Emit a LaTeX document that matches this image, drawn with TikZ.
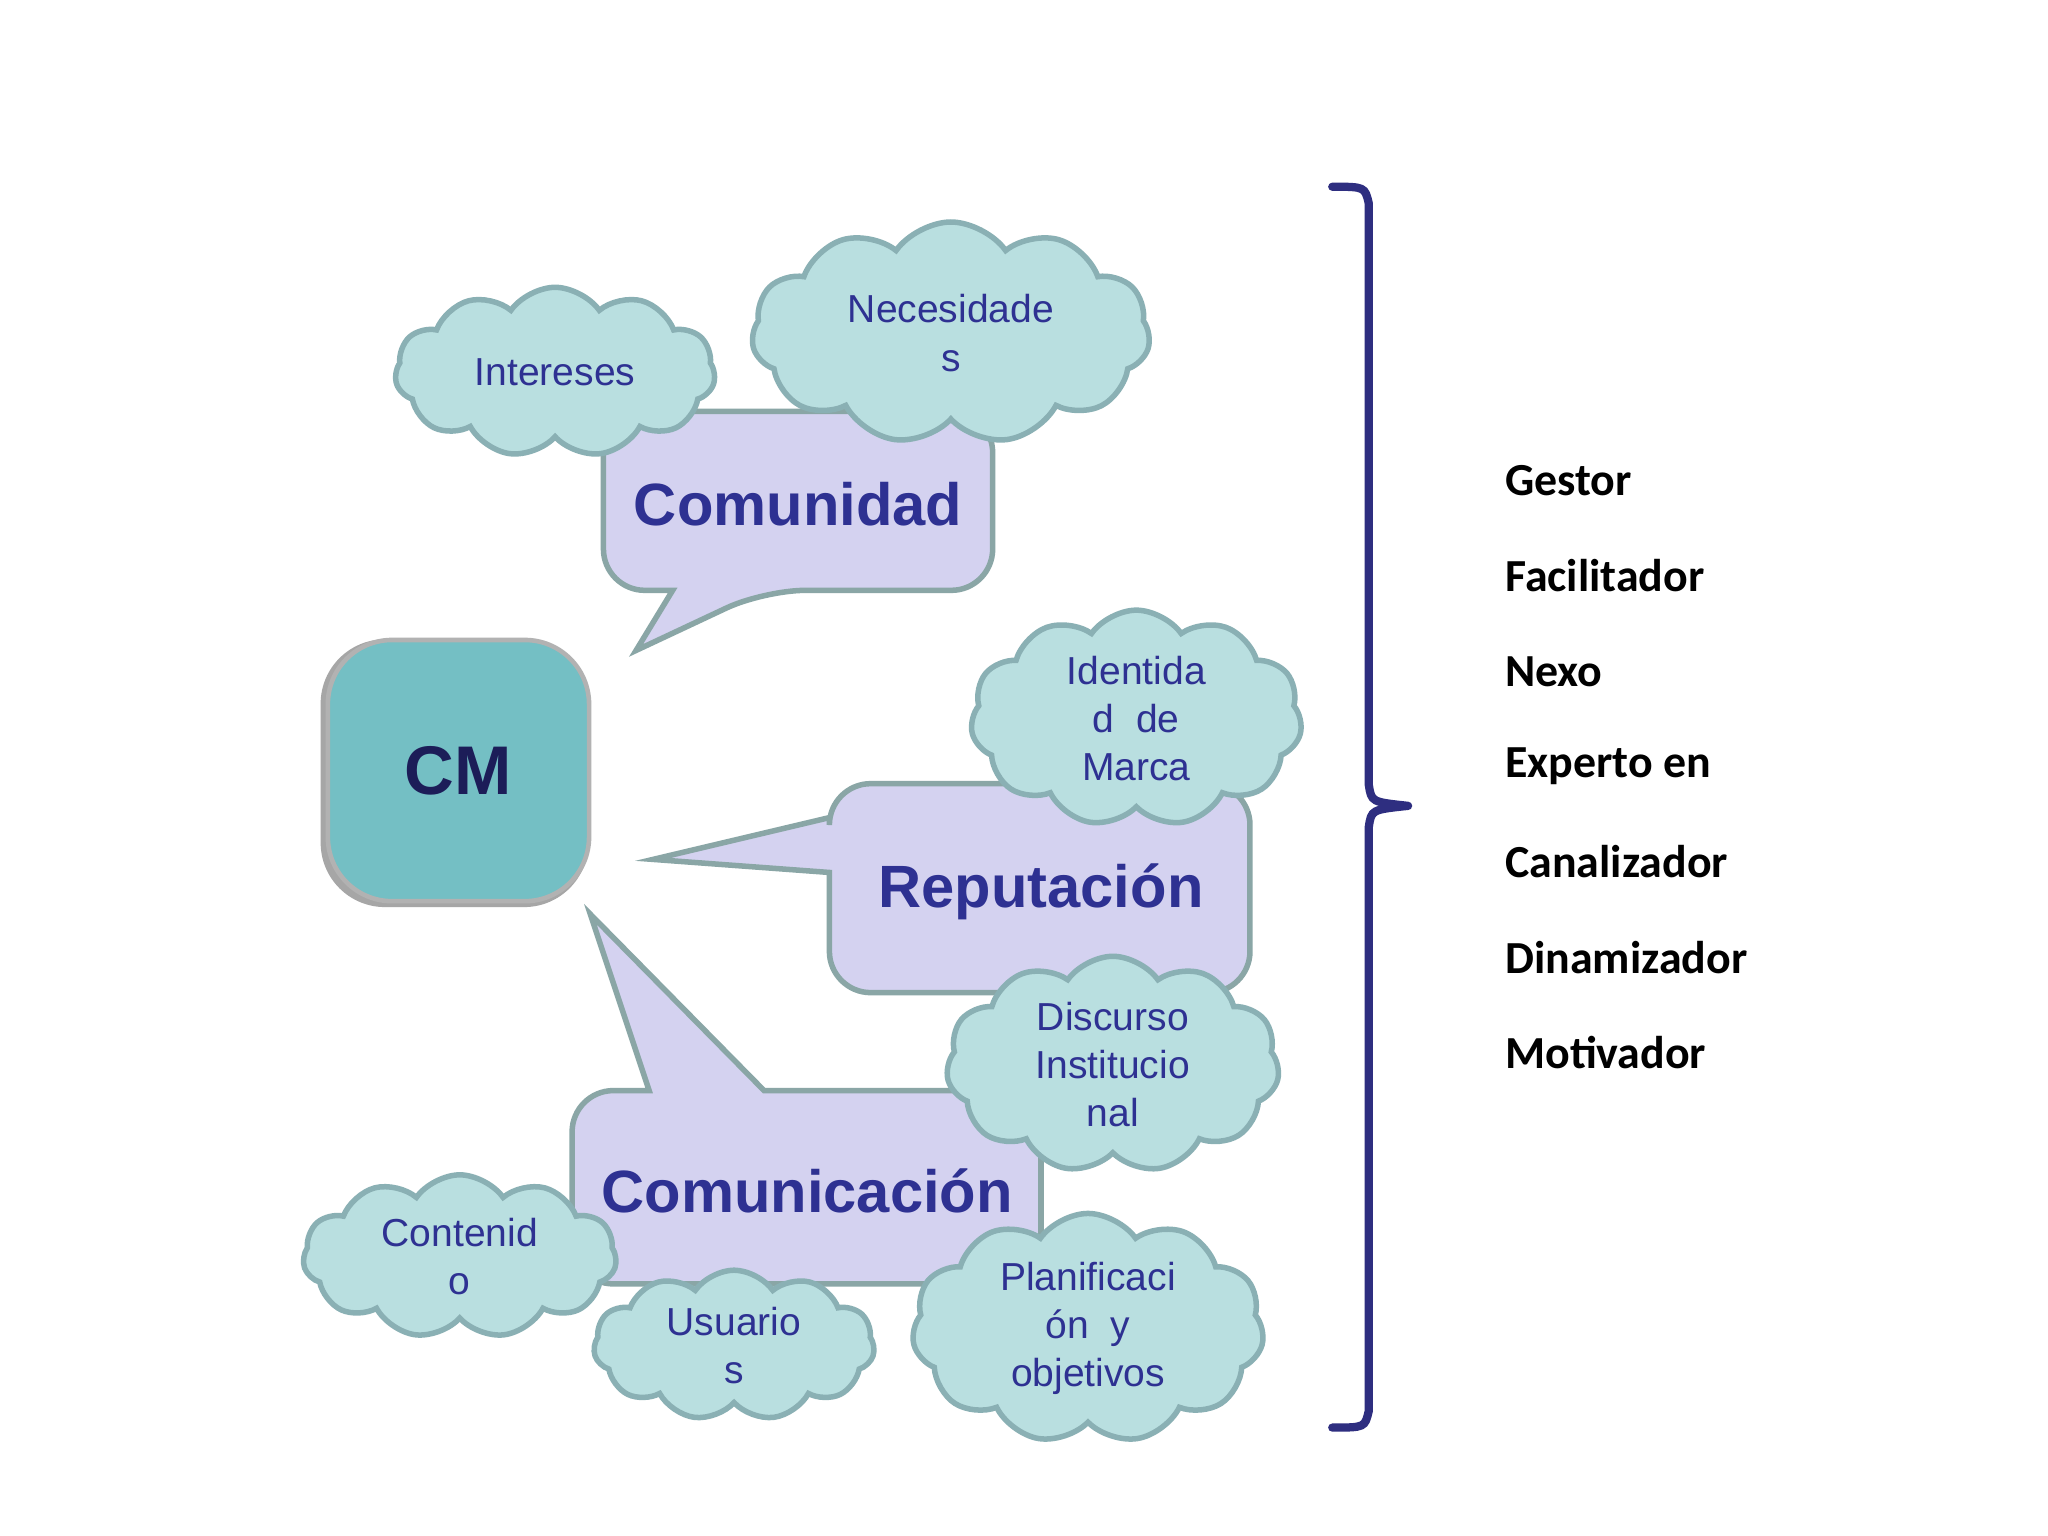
\documentclass[tikz,border=0pt]{standalone}
\usepackage{fontspec}
\setmainfont{Liberation Sans}
\newfontfamily\calib{Carlito}
\usetikzlibrary{shapes.symbols}
\definecolor{txtblue}{HTML}{2E3192}
\definecolor{cmfill}{HTML}{74BFC4}
\definecolor{bubfill}{HTML}{D4D2F0}
\definecolor{bubline}{HTML}{8AA6A6}
\definecolor{cloudfill}{HTML}{B9DFE0}
\definecolor{cloudline}{HTML}{8AB0B4}
\definecolor{bracecol}{HTML}{2E2E80}
\tikzset{
  bubble/.style = {fill=bubfill, draw=bubline, line width=1.2pt, rounded corners=9pt},
  bubtext/.style = {text=txtblue, font=\fontsize{13}{15}\selectfont\bfseries},
  idea/.style = {cloud, cloud puffs=11, cloud puff arc=110, aspect=1.8, fill=cloudfill,
                 draw=cloudline, line width=1.2pt, text=txtblue, align=center,
                 font=\fontsize{8.5}{10.5}\selectfont, inner sep=0pt},
  role/.style = {anchor=west, font=\calib\fontsize{10}{12}\selectfont\bfseries}
}
\begin{document}
\begin{tikzpicture}
  \useasboundingbox[fill=white] (0,0) rectangle (15.68,11.76);

  % central box
  \node[fill=gray!70, rounded corners=14pt, minimum width=2.05cm, minimum height=2.05cm] at (3.48,5.84) {};
  \node (cm) [fill=cmfill, draw=gray!60, line width=1pt, rounded corners=14pt,
    minimum width=2cm, minimum height=2cm, text=txtblue!60!black,
    font=\fontsize{15}{17}\selectfont\bfseries] at (3.51,5.86) {CM};

  % speech bubbles
  \draw[bubble] (4.62,8.61) -- (7.60,8.61) -- (7.60,7.24) -- (5.85,7.24)
    [sharp corners] -- (4.87,6.78) -- (5.15,7.24) [rounded corners=9pt] -- (4.62,7.24) -- cycle;
  \node (comunidad) [bubtext] at (6.11,7.90) {Comunidad};

  \draw[bubble] (6.35,5.76) -- (9.57,5.76) -- (9.57,4.16) -- (6.35,4.16)
    [sharp corners] -- (6.35,5.08) -- (5.00,5.18) -- (6.35,5.50) [rounded corners=9pt] -- cycle;
  \node (reputacion) [bubtext] at (7.97,4.93) {Reputación};

  \draw[bubble] (4.38,3.41) [sharp corners] -- (4.97,3.41) -- (4.52,4.76) -- (5.85,3.41)
    [rounded corners=9pt] -- (7.97,3.41) -- (7.97,1.93) -- (4.38,1.93) -- cycle;
  \node (comunicacion) [bubtext] at (6.18,2.64) {Comunicación};

  % clouds
  \node (intereses) [idea, minimum width=2.45cm, minimum height=1.3cm] at (4.25,8.91) {Intereses};
  \node (necesidades) [idea, minimum width=3.05cm, minimum height=1.7cm] at (7.28,9.21) {Necesidade\\s};
  \node (identidad) [idea, minimum width=2.2cm, minimum height=1.45cm] at (8.70,6.26) {Identida\\d\ \ de\\Marca};
  \node (discurso) [idea, minimum width=2.55cm, minimum height=1.3cm] at (8.52,3.61) {Discurso\\Institucio\\nal};
  \node (contenido) [idea, minimum width=2.4cm, minimum height=1.25cm] at (3.52,2.14) {Contenid\\o};
  \node (usuarios) [idea, minimum width=2.15cm, minimum height=1.15cm] at (5.62,1.46) {Usuario\\s};
  \node (planificacion) [idea, minimum width=2.65cm, minimum height=1.4cm] at (8.33,1.59) {Planificaci\\ón\ \ y\\objetivos};

  % brace
  \draw[bracecol, line width=1.8pt, line cap=round]
    (10.20,10.33) .. controls (10.45,10.33) .. (10.48,10.20) -- (10.48,5.75)
    .. controls (10.50,5.62) .. (10.78,5.59)
    (10.78,5.59) .. controls (10.50,5.56) .. (10.48,5.43) -- (10.48,0.96)
    .. controls (10.45,0.83) .. (10.20,0.83);

  % roles
  \foreach \lbl/\y in {Gestor/8.08, Facilitador/7.35, Nexo/6.62, Experto en/5.89,
                       Canalizador/5.16, Dinamizador/4.43, Motivador/3.70}{
    \node[role] at (11.40,\y) {\lbl};
  }
\end{tikzpicture}
\end{document}
